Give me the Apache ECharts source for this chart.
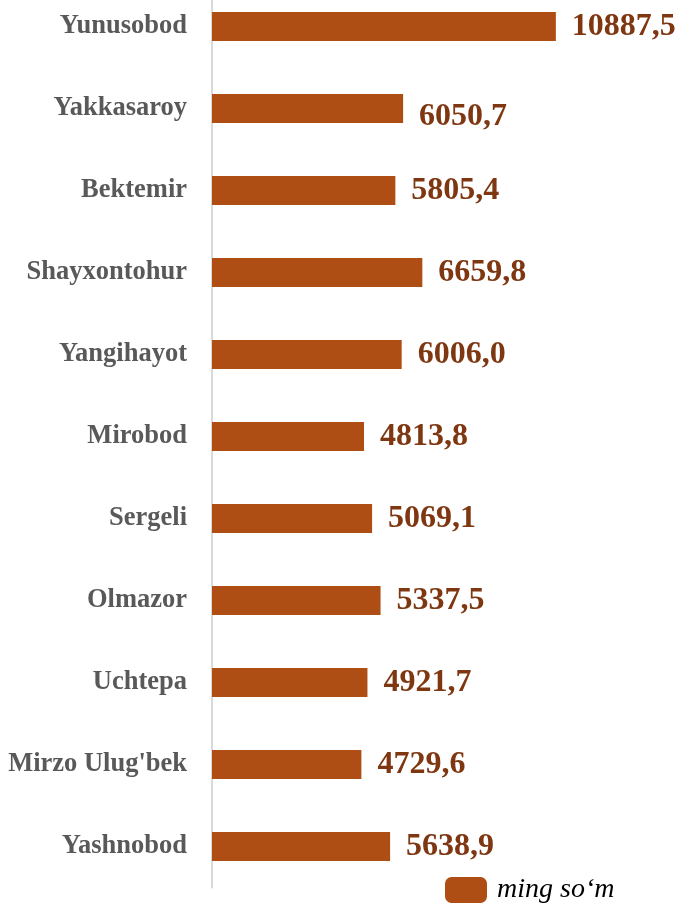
<!DOCTYPE html>
<html>
<head>
<meta charset="utf-8">
<script src="https://cdn.jsdelivr.net/npm/echarts@6/dist/echarts.min.js"></script>
<style>
    html, body { margin: 0; padding: 0; background: #fff; overflow: hidden; }
    /* chart box pushed up a little so the top band is cut like in the picture */
    #chart { width: 679px; height: 918px; margin-top: -15px; }
</style>
</head>
<body>
<div id="chart"></div>
<script>
// tumanlar (yuqoridan pastga)
var districts = ['Yunusobod', 'Yakkasaroy', 'Bektemir', 'Shayxontohur', 'Yangihayot',
    'Mirobod', 'Sergeli', 'Olmazor', 'Uchtepa', "Mirzo Ulug'bek", 'Yashnobod'];
var values = [10887.5, 6050.7, 5805.4, 6659.8, 6006.0, 4813.8, 5069.1, 5337.5, 4921.7, 4729.6, 5638.9];
var seriesName = 'ming so\u2018m';

var chart = echarts.init(document.getElementById('chart'), null, {renderer: 'canvas'});

var serif = '"Liberation Serif", "DejaVu Serif", serif';

// category axis is inverted so first item sits on top
var barData = values.map(function (v, i) {
    var item = {value: v};
    if (i === 1) {
        item.label = {offset: [0, 8]};
    }
    return item;
});

var option = {
    backgroundColor: '#ffffff',
    animation: false,
    grid: {
        left: 212,
        right: 88,
        top: 0.5,
        bottom: 15.5,
        containLabel: false
    },
    legend: {
        left: 445,
        top: 891,
        padding: 0,
        itemWidth: 42,
        itemHeight: 26,
        itemGap: 0,
        icon: 'roundRect',
        textStyle: {
            fontFamily: serif,
            fontStyle: 'italic',
            fontSize: 28,
            color: '#000',
            padding: [0, 0, 0, 5]
        },
        data: [seriesName]
    },
    xAxis: {
        type: 'value',
        min: 0,
        max: 12000,
        show: false
    },
    yAxis: {
        type: 'category',
        inverse: true,
        data: districts,
        axisLine: {show: true, lineStyle: {color: '#d9d9d9', width: 2}},
        axisTick: {show: false},
        axisLabel: {
            margin: 25,
            fontFamily: serif,
            fontWeight: 'bold',
            fontSize: 26.5,
            color: '#595959',
            padding: [3, 0, 0, 0]
        }
    },
    series: [{
        name: seriesName,
        type: 'bar',
        barWidth: 29,
        data: barData,
        itemStyle: {color: '#AE4E14'},
        label: {
            show: true,
            position: 'right',
            distance: 16,
            fontFamily: serif,
            fontWeight: 'bold',
            fontSize: 32,
            color: '#7E3711',
            formatter: function (p) {
                return p.value.toFixed(1).replace('.', ',');
            }
        }
    }]
};

chart.setOption(option);
</script>
</body>
</html>
